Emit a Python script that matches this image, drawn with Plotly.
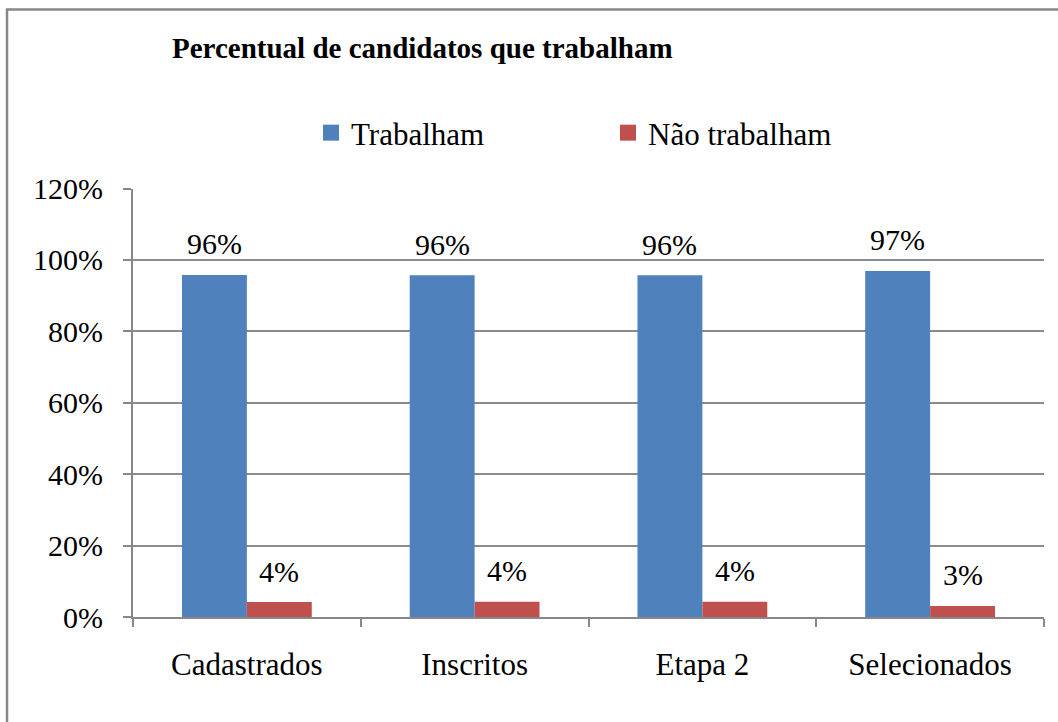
import plotly.graph_objects as go

categories = ["Cadastrados", "Inscritos", "Etapa 2", "Selecionados"]
trabalham = [95.8, 95.7, 95.7, 96.9]
nao_trabalham = [4.2, 4.3, 4.3, 3.1]
series_names = ["Trabalham", "Não trabalham"]
colors = ["#4F81BD", "#C0504D"]
y_ticks = [0, 20, 40, 60, 80, 100, 120]
y_tick_labels = [f"{v}%" for v in y_ticks]

FONT = "Liberation Serif"
W, H = 1058, 722
L, R, T, B = 133, 1044, 186, 617
PW, PH = R - L, B - T

fig = go.Figure()
offsets = [-32.5, 32.5]
for name, vals, col, off in zip(series_names, [trabalham, nao_trabalham], colors, offsets):
    fig.add_trace(go.Bar(
        x=categories, y=vals, name=name, showlegend=False,
        marker=dict(color=col, line=dict(width=0)),
    ))
    # legend proxy with larger square symbol
    fig.add_trace(go.Scatter(
        x=[None], y=[None], mode="markers", name=name,
        marker=dict(symbol="square", size=16, color=col),
    ))
    for c, v in zip(categories, vals):
        fig.add_annotation(x=c, y=v, text=f"{v:.0f}%", showarrow=False,
                           xshift=off, yshift=31, yanchor="middle",
                           font=dict(family=FONT, size=30, color="black"))

fig.update_layout(
    width=W, height=H,
    margin=dict(l=L, r=W - R, t=T, b=H - B),
    paper_bgcolor="white", plot_bgcolor="white",
    barmode="group", bargap=0.43, bargroupgap=0,
    font=dict(family=FONT, size=30, color="black"),
    title=dict(text="<b>Percentual de candidatos que trabalham</b>",
               font=dict(family=FONT, size=29, color="black"),
               x=172 / W, xanchor="left", y=1 - 48 / H, yanchor="middle"),
    legend=dict(orientation="h", x=(311 - L) / PW, xanchor="left",
                y=1 - 133 / H, yanchor="middle", yref="container",
                font=dict(family=FONT, size=31), itemwidth=30,
                traceorder="normal", entrywidth=252, entrywidthmode="pixels",
                bgcolor="rgba(0,0,0,0)"),
    showlegend=True,
)
fig.update_xaxes(
    showline=True, linecolor="#888888", linewidth=2,
    ticks="outside", tickson="boundaries", ticklen=8, tickcolor="#888888", tickwidth=2,
    ticklabelstandoff=19, showgrid=False,
    tickfont=dict(family=FONT, size=31),
)
fig.update_yaxes(
    range=[0, 120], tickvals=y_ticks, ticktext=y_tick_labels,
    showline=True, linecolor="#888888", linewidth=2,
    ticks="outside", ticklen=8, tickcolor="#888888", tickwidth=2,
    ticklabelstandoff=14,
    showgrid=True, gridcolor="#8C8C8C", gridwidth=2,
    zeroline=False, tickfont=dict(family=FONT, size=30),
)
# outer chart border
fig.add_shape(type="rect", xref="paper", yref="paper",
              x0=(7 - L) / PW, x1=(1070 - L) / PW,
              y0=(B - 740) / PH, y1=(B - 6) / PH,
              line=dict(color="#888888", width=2.5), layer="below")
fig.write_html("out.html", config={"displayModeBar": False},
               post_script="document.body.style.margin='0';document.body.style.overflow='hidden';")
